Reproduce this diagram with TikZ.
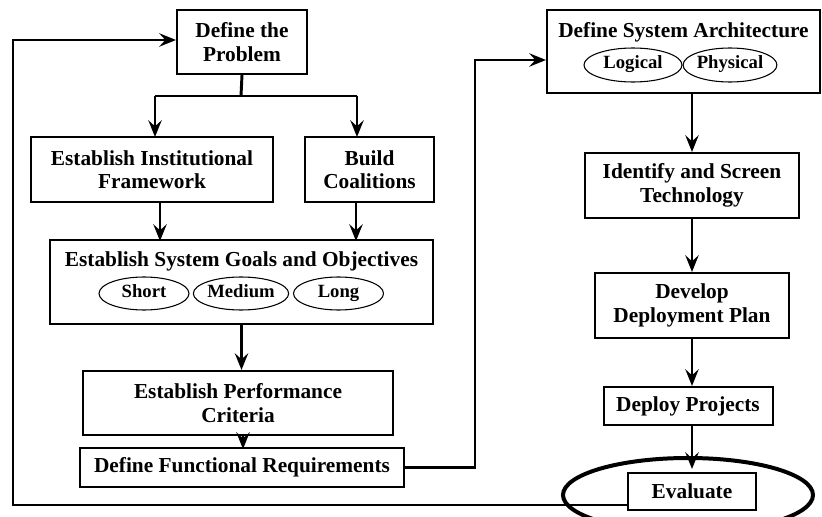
\documentclass[tikz,border=0pt]{standalone}
\usepackage{fontspec}
\setmainfont{Liberation Serif}
\usetikzlibrary{arrows.meta, shapes.geometric}
\newdimen\px
\px=0.75pt

\begin{document}
\begin{tikzpicture}[x=0.75pt, y=-0.75pt,
    box/.style={draw, line width=1.5pt, align=center, inner sep=0pt,
        font=\bfseries\fontsize{16}{17.5}\selectfont},
    oval/.style={draw, ellipse, line width=0.8pt, inner sep=0pt,
        text height=1.6ex, text depth=0.4ex,
        font=\bfseries\fontsize{14}{15}\selectfont},
    title/.style={font=\bfseries\fontsize{16}{17.5}\selectfont, inner sep=0pt},
    arr/.style={line width=2.2pt, -{Stealth[length=12.5pt, width=10pt, inset=4.5pt]}},
    line/.style={line width=2.2pt}]
    \useasboundingbox (0,0) rectangle (822,517);

    % Left column
    \node[box, minimum width=130\px, minimum height=64\px] (prob) at (242,42) {Define the\\Problem};
    \node[box, minimum width=242\px, minimum height=65\px] (inst) at (152,169.5) {Establish Institutional\\Framework};
    \node[box, minimum width=129\px, minimum height=65\px] (coal) at (369.5,169.5) {Build\\Coalitions};
    \node[box, minimum width=383\px, minimum height=84\px] (goals) at (241.5,282) {};
    \node[title] (goalt) at (241.5,261) {Establish System Goals and Objectives};
    \node[oval, minimum width=90\px, minimum height=33\px] (short) at (144,293.5) {Short};
    \node[oval, minimum width=90\px, minimum height=33\px] (medium) at (241,293.5) {Medium};
    \node[oval, minimum width=90\px, minimum height=33\px] (long) at (338.5,293.5) {Long};
    \node[box, minimum width=310\px, minimum height=64\px] (perf) at (238,403) {Establish Performance\\Criteria};
    \node[box, minimum width=324\px, minimum height=39\px] (func) at (242,467.5) {Define Functional Requirements};

    % Right column
    \node[box, minimum width=273\px, minimum height=83\px] (arch) at (683.5,51.5) {};
    \node[title] (archt) at (683.5,32) {Define System Architecture};
    \node[oval, minimum width=98\px, minimum height=34\px] (logical) at (633,65) {Logical};
    \node[oval, minimum width=92\px, minimum height=34\px] (physical) at (730,65) {Physical};
    \node[box, minimum width=214\px, minimum height=65\px] (ident) at (692,185.5) {Identify and Screen\\Technology};
    \node[box, minimum width=194\px, minimum height=65\px] (devel) at (692,305.5) {Develop\\Deployment Plan};
    \node[box, minimum width=169\px, minimum height=38\px] (deploy) at (688,406) {Deploy Projects};
    \node[box, minimum width=128\px, minimum height=37\px] (eval) at (692,491.5) {Evaluate};
    \draw[line width=3pt] (688,495) ellipse (125 and 37);

    % Connectors
    \coordinate (split) at (241,96);
    \draw[line] (prob.south) -- (split);
    \draw[line] (155,96) -- (357,96);
    \draw[arr] (155,96) -- (155,137);
    \draw[arr] (357,96) -- (357,137);
    \draw[arr] (160,202) -- (160,241);
    \draw[arr] (356,202) -- (356,241);
    \draw[arr] (goals.south) -- (goals.south |- perf.north);
    \draw[arr] (243,435) -- (243,449);
    \coordinate (up) at (475,60);
    \draw[arr] (func.east) -| (up) -- (up -| arch.west);
    \draw[arr] (arch.south -| ident) -- (ident.north);
    \draw[arr] (ident) -- (devel);
    \draw[arr] (devel.south) -- (devel.south |- deploy.north);
    \draw[arr] (deploy.south -| devel) -- (692,469);

    % Feedback loop
    \coordinate (back) at (13,505);
    \draw[arr] (eval.west |- back) -- (back) |- (prob.west |- 0,40);
\end{tikzpicture}
\end{document}
